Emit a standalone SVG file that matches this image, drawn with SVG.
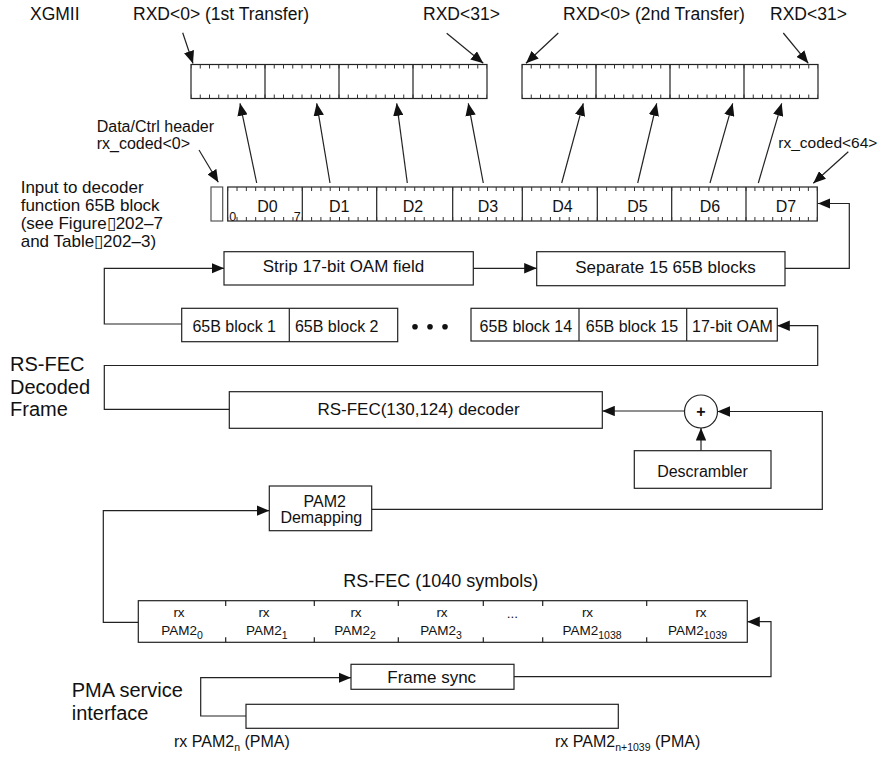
<svg xmlns="http://www.w3.org/2000/svg" width="883" height="757" viewBox="0 0 883 757">
  <style>
    .box { fill: #fff; stroke: #222; stroke-width: 1.2; }
    .ln { fill: none; stroke: #222; stroke-width: 1.2; }
    .arr { marker-end: url(#ah); }
    .tk { stroke: #333; stroke-width: 4; fill: none; }
    .sep { stroke: #222; stroke-width: 1.2; }
    text { font-family: "Liberation Sans", Arial, Helvetica, sans-serif; fill: #111; }
    .f175 { font-size: 17.5px; }
    .f17 { font-size: 17px; }
    .f16 { font-size: 16px; }
    .f20 { font-size: 20px; }
    .f135 { font-size: 13.5px; }
    .sub { font-size: 10.5px; }
    .mid { text-anchor: middle; }
    .bit { font-size: 12.5px; }
  </style>
  <defs>
    <marker id="ah" viewBox="0 0 12 10" refX="12" refY="5" markerWidth="12.5" markerHeight="10.5" markerUnits="userSpaceOnUse" orient="auto">
      <path d="M0,0 L12,5 L0,10 z" fill="#111"/>
    </marker>
  </defs>

  <!-- free-standing labels -->
  <g id="labels">
    <text class="f175" x="30" y="20">XGMII</text>
    <text class="f175" x="133" y="20">RXD&lt;0&gt; (1st Transfer)</text>
    <text class="f175" x="423" y="20">RXD&lt;31&gt;</text>
    <text class="f175" x="563" y="20">RXD&lt;0&gt; (2nd Transfer)</text>
    <text class="f175" x="770" y="20">RXD&lt;31&gt;</text>
    <text class="f16" x="96.7" y="132">Data/Ctrl header</text>
    <text class="f16" x="96.7" y="148.5">rx_coded&lt;0&gt;</text>
    <text x="778.3" y="148.3" style="font-size:15.5px">rx_coded&lt;64&gt;</text>
    <text class="f17" x="20.7" y="192.5">Input to decoder</text>
    <text class="f17" x="20.7" y="210.7">function 65B block</text>
    <text class="f17" x="20.7" y="228.9">(see Figure▯202–7</text>
    <text class="f17" x="20.7" y="247.1">and Table▯202–3)</text>
    <text class="f20" x="10" y="371">RS-FEC</text>
    <text class="f20" x="10" y="393.5">Decoded</text>
    <text class="f20" x="10" y="416">Frame</text>
    <text x="343.3" y="586.7" style="font-size:18px">RS-FEC (1040 symbols)</text>
    <text class="f20" x="71.7" y="697.3">PMA service</text>
    <text class="f20" x="71.7" y="720">interface</text>
    <text class="f16" x="174" y="747.3">rx PAM2<tspan class="sub" dy="3.5">n</tspan><tspan dy="-3.5"> (PMA)</tspan></text>
    <text class="f16" x="555" y="747.3">rx PAM2<tspan class="sub" dy="3.5">n+1039</tspan><tspan dy="-3.5">  (PMA)</tspan></text>
  </g>

  <!-- XGMII transfer registers -->
  <g id="xgmii-1">
    <rect class="box" x="191" y="64.5" width="296" height="34"/>
    <path class="sep" d="M265,64.5 V98.5 M339,64.5 V98.5 M413,64.5 V98.5"/>
    <line class="tk" x1="191" y1="66.5" x2="487" y2="66.5" stroke-dasharray="1 8.25" stroke-dashoffset="0.5"/>
    <line class="tk" x1="191" y1="96.5" x2="487" y2="96.5" stroke-dasharray="1 8.25" stroke-dashoffset="0.5"/>
  </g>
  <g id="xgmii-2">
    <rect class="box" x="522" y="64.5" width="296" height="34"/>
    <path class="sep" d="M596,64.5 V98.5 M670,64.5 V98.5 M744,64.5 V98.5"/>
    <line class="tk" x1="522" y1="66.5" x2="818" y2="66.5" stroke-dasharray="1 8.25" stroke-dashoffset="0.5"/>
    <line class="tk" x1="522" y1="96.5" x2="818" y2="96.5" stroke-dasharray="1 8.25" stroke-dashoffset="0.5"/>
  </g>

  <!-- 65B block input to decoder -->
  <g id="header-bit">
    <rect class="box" x="211" y="187" width="11.7" height="34" style="stroke:#555"/>
  </g>
  <g id="block65">
    <rect class="box" x="227.7" y="187" width="589.6" height="34"/>
    <path class="sep" d="M302.3,187 V221 M376.7,187 V221 M452.7,187 V221 M522.3,187 V221 M597.3,187 V221 M671.7,187 V221 M746,187 V221"/>
    <g class="tk">
      <line x1="227.7" y1="189" x2="302.3" y2="189" stroke-dasharray="1 8.325" stroke-dashoffset="0.5"/>
      <line x1="227.7" y1="219" x2="302.3" y2="219" stroke-dasharray="1 8.325" stroke-dashoffset="0.5"/>
      <line x1="302.3" y1="189" x2="376.7" y2="189" stroke-dasharray="1 8.3" stroke-dashoffset="0.5"/>
      <line x1="302.3" y1="219" x2="376.7" y2="219" stroke-dasharray="1 8.3" stroke-dashoffset="0.5"/>
      <line x1="376.7" y1="189" x2="452.7" y2="189" stroke-dasharray="1 8.5" stroke-dashoffset="0.5"/>
      <line x1="376.7" y1="219" x2="452.7" y2="219" stroke-dasharray="1 8.5" stroke-dashoffset="0.5"/>
      <line x1="452.7" y1="189" x2="522.3" y2="189" stroke-dasharray="1 7.7" stroke-dashoffset="0.5"/>
      <line x1="452.7" y1="219" x2="522.3" y2="219" stroke-dasharray="1 7.7" stroke-dashoffset="0.5"/>
      <line x1="522.3" y1="189" x2="597.3" y2="189" stroke-dasharray="1 8.375" stroke-dashoffset="0.5"/>
      <line x1="522.3" y1="219" x2="597.3" y2="219" stroke-dasharray="1 8.375" stroke-dashoffset="0.5"/>
      <line x1="597.3" y1="189" x2="671.7" y2="189" stroke-dasharray="1 8.3" stroke-dashoffset="0.5"/>
      <line x1="597.3" y1="219" x2="671.7" y2="219" stroke-dasharray="1 8.3" stroke-dashoffset="0.5"/>
      <line x1="671.7" y1="189" x2="746" y2="189" stroke-dasharray="1 8.29" stroke-dashoffset="0.5"/>
      <line x1="671.7" y1="219" x2="746" y2="219" stroke-dasharray="1 8.29" stroke-dashoffset="0.5"/>
      <line x1="746" y1="189" x2="817.3" y2="189" stroke-dasharray="1 7.91" stroke-dashoffset="0.5"/>
      <line x1="746" y1="219" x2="817.3" y2="219" stroke-dasharray="1 7.91" stroke-dashoffset="0.5"/>
    </g>
    <g class="f16 mid">
      <text x="267.5" y="211.7">D0</text>
      <text x="339.2" y="211.7">D1</text>
      <text x="413" y="211.7">D2</text>
      <text x="488" y="211.7">D3</text>
      <text x="562.5" y="211.7">D4</text>
      <text x="637.5" y="211.7">D5</text>
      <text x="710" y="211.7">D6</text>
      <text x="786" y="211.7">D7</text>
    </g>
    <text class="bit" x="229.3" y="220.5">0</text>
    <text class="bit" x="293.8" y="220.5">7</text>
  </g>

  <g id="strip-oam">
    <rect class="box" x="224" y="251.7" width="249.3" height="33.3"/>
    <text class="f17 mid" x="343.5" y="272.3">Strip 17-bit OAM field</text>
  </g>
  <g id="separate-blocks">
    <rect class="box" x="536.7" y="251.7" width="248.3" height="34"/>
    <text class="f17 mid" x="665.5" y="273.3">Separate 15 65B blocks</text>
  </g>

  <g id="blocks-first">
    <rect class="box" x="181.7" y="308.3" width="216" height="33.4"/>
    <line class="sep" x1="289.3" y1="308.3" x2="289.3" y2="341.7"/>
    <text class="f16 mid" x="234.2" y="332.3">65B block 1</text>
    <text class="f16 mid" x="336.7" y="332.3">65B block 2</text>
  </g>
  <g id="ellipsis" fill="#111">
    <circle cx="415" cy="326.7" r="2.8"/>
    <circle cx="430" cy="326.7" r="2.8"/>
    <circle cx="445" cy="326.7" r="2.8"/>
  </g>
  <g id="blocks-last">
    <rect class="box" x="471" y="308.3" width="306.3" height="32.7"/>
    <path class="sep" d="M579,308.3 V341 M686.7,308.3 V341"/>
    <text class="f16 mid" x="525.8" y="332.3">65B block 14</text>
    <text class="f16 mid" x="632" y="332.3">65B block 15</text>
    <text class="f16 mid" x="732.5" y="332.3">17-bit OAM</text>
  </g>

  <g id="rs-decoder">
    <rect class="box" x="229.3" y="391.7" width="373" height="36.6"/>
    <text class="f17 mid" x="418.5" y="415">RS-FEC(130,124) decoder</text>
  </g>
  <g id="xor">
    <circle class="box" cx="701" cy="411.5" r="16.5"/>
    <text class="f16 mid" x="701" y="417" style="font-weight:bold">+</text>
  </g>
  <g id="descrambler">
    <rect class="box" x="634.3" y="450.7" width="136.7" height="37.6"/>
    <text class="f16 mid" x="702.5" y="476.5">Descrambler</text>
  </g>

  <g id="pam2-demap">
    <rect class="box" x="269.3" y="486" width="102.4" height="44.7"/>
    <text class="f16 mid" x="324.7" y="506.7">PAM2</text>
    <text class="f16 mid" x="321.3" y="522.7">Demapping</text>
  </g>

  <g id="rs-symbols">
    <rect class="box" x="138.3" y="600.7" width="609" height="41.6"/>
    <path class="sep" d="M225.7,600.7 v5.3 M314.3,600.7 v5.3 M398.3,600.7 v5.3 M483.3,600.7 v5.3 M542.7,600.7 v5.3 M646.7,600.7 v5.3 M225.7,642.3 v-5 M314.3,642.3 v-5 M398.3,642.3 v-5 M483.3,642.3 v-5 M542.7,642.3 v-5 M646.7,642.3 v-5"/>
    <g class="f135 mid">
      <text x="179" y="616.7">rx</text>
      <text x="264" y="616.7">rx</text>
      <text x="356" y="616.7">rx</text>
      <text x="442" y="616.7">rx</text>
      <text x="512.5" y="618">...</text>
      <text x="587.5" y="616.7">rx</text>
      <text x="701" y="616.7">rx</text>
      <text x="182" y="635">PAM2<tspan class="sub" dy="3.5">0</tspan></text>
      <text x="266.7" y="635">PAM2<tspan class="sub" dy="3.5">1</tspan></text>
      <text x="355" y="635">PAM2<tspan class="sub" dy="3.5">2</tspan></text>
      <text x="441" y="635">PAM2<tspan class="sub" dy="3.5">3</tspan></text>
      <text x="592" y="635">PAM2<tspan class="sub" dy="3.5">1038</tspan></text>
      <text x="697.5" y="635">PAM2<tspan class="sub" dy="3.5">1039</tspan></text>
    </g>
  </g>

  <g id="frame-sync">
    <rect class="box" x="351" y="664.3" width="163" height="25"/>
    <text class="f17 mid" x="431.7" y="682.7">Frame sync</text>
  </g>
  <g id="pma-input">
    <rect class="box" x="246" y="704.3" width="372.3" height="24"/>
  </g>

  <!-- connectors -->
  <g id="connectors">
    <line class="ln arr" x1="182.7" y1="32.7" x2="193" y2="63.5"/>
    <line class="ln arr" x1="446.7" y1="33.3" x2="483.3" y2="63.3"/>
    <line class="ln arr" x1="558.3" y1="33" x2="526" y2="63.3"/>
    <line class="ln arr" x1="783.3" y1="33" x2="808.3" y2="63.3"/>

    <line class="ln arr" x1="256.7" y1="183" x2="240" y2="103.3"/>
    <line class="ln arr" x1="330" y1="183" x2="316.7" y2="103.3"/>
    <line class="ln arr" x1="407.3" y1="183" x2="396.7" y2="103.3"/>
    <line class="ln arr" x1="483.3" y1="183" x2="468.3" y2="103.3"/>
    <line class="ln arr" x1="561.7" y1="183" x2="583.3" y2="103.3"/>
    <line class="ln arr" x1="637.7" y1="183" x2="656.7" y2="103.3"/>
    <line class="ln arr" x1="710" y1="183" x2="732.7" y2="103.3"/>
    <line class="ln arr" x1="758.3" y1="183" x2="781.7" y2="103.3"/>

    <line class="ln arr" x1="199" y1="150" x2="218.3" y2="182.3"/>
    <line class="ln arr" x1="848.3" y1="151.7" x2="813.3" y2="183.3"/>

    <path class="ln arr" d="M785,268.3 H849.3 V203.5 H817.8"/>
    <path class="ln arr" d="M473.3,268.3 H536.7"/>
    <path class="ln arr" d="M181.7,324 H104.3 V268.3 H224"/>
    <path class="ln arr" d="M229.3,409.3 H104.3 V365.5 H817.7 V325.7 H777.3"/>
    <path class="ln arr" d="M684.5,411 H602.3"/>
    <path class="ln arr" d="M371.7,509.3 H822.3 V411.5 H717.5"/>
    <path class="ln arr" d="M701,450.7 V428"/>
    <path class="ln arr" d="M138.3,622.3 H103.3 V510.7 H269.3"/>
    <path class="ln arr" d="M514,676.7 H771 V621.7 H747.3"/>
    <path class="ln arr" d="M246,716 H200.7 V677.7 H351"/>
  </g>
</svg>
